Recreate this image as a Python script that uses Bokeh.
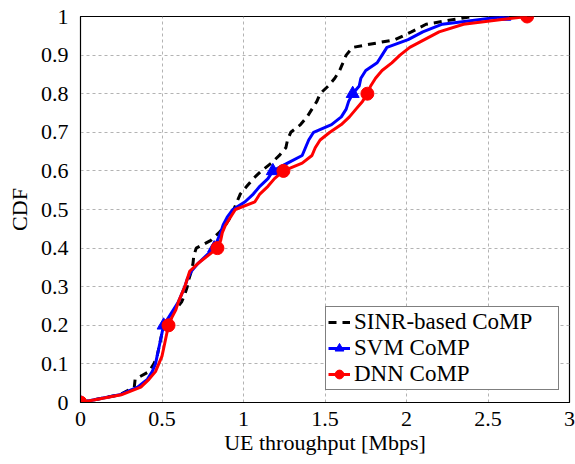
from bokeh.plotting import figure
from bokeh.models import FixedTicker, Legend, LegendItem, Range1d
from bokeh.embed import file_html
from bokeh.resources import INLINE

# CDF levels
cdf_levels = [0.00, 0.02, 0.04, 0.06, 0.08, 0.10, 0.12, 0.14, 0.16, 0.18,
              0.20, 0.22, 0.24, 0.26, 0.28, 0.30, 0.32, 0.34, 0.36, 0.38,
              0.40, 0.42, 0.44, 0.46, 0.48, 0.50, 0.52, 0.54, 0.56, 0.58,
              0.60, 0.62, 0.64, 0.66, 0.68, 0.70, 0.72, 0.74, 0.76, 0.78,
              0.80, 0.82, 0.84, 0.86, 0.88, 0.90, 0.92, 0.94, 0.96, 0.98, 1.00]

sinr_tput = [0.00, 0.24, 0.33, 0.335, 0.42, 0.45, 0.47, 0.48, 0.49, 0.50,
             0.52, 0.55, 0.58, 0.62, 0.64, 0.655, 0.665, 0.68, 0.69, 0.695,
             0.71, 0.80, 0.85, 0.89, 0.92, 0.94, 0.96, 0.98, 1.02, 1.06,
             1.11, 1.17, 1.22, 1.26, 1.27, 1.29, 1.35, 1.39, 1.42, 1.45,
             1.47, 1.52, 1.56, 1.59, 1.61, 1.63, 1.67, 1.93, 2.03, 2.12, 2.40]

svm_tput = [0.00, 0.24, 0.35, 0.41, 0.44, 0.46, 0.47, 0.48, 0.49, 0.50,
            0.51, 0.54, 0.57, 0.60, 0.62, 0.64, 0.655, 0.68, 0.72, 0.77,
            0.82, 0.84, 0.86, 0.875, 0.90, 0.935, 1.01, 1.06, 1.10, 1.15,
            1.18, 1.27, 1.36, 1.38, 1.40, 1.43, 1.54, 1.60, 1.63, 1.645,
            1.67, 1.71, 1.72, 1.75, 1.82, 1.85, 1.88, 2.01, 2.10, 2.22, 2.60]

dnn_tput = [0.00, 0.25, 0.37, 0.42, 0.46, 0.48, 0.50, 0.51, 0.52, 0.53,
            0.54, 0.56, 0.585, 0.60, 0.62, 0.64, 0.655, 0.67, 0.72, 0.78,
            0.84, 0.86, 0.87, 0.89, 0.92, 0.95, 1.07, 1.10, 1.15, 1.19,
            1.245, 1.36, 1.42, 1.44, 1.47, 1.53, 1.60, 1.65, 1.69, 1.73,
            1.76, 1.78, 1.81, 1.85, 1.91, 1.96, 2.02, 2.11, 2.20, 2.35, 2.74]

x_ticks = [0, 0.5, 1, 1.5, 2, 2.5, 3]
x_tick_labels = ["0", "0.5", "1", "1.5", "2", "2.5", "3"]
y_ticks = [0, 0.1, 0.2, 0.3, 0.4, 0.5, 0.6, 0.7, 0.8, 0.9, 1.0]
y_tick_labels = ["0", "0.1", "0.2", "0.3", "0.4", "0.5", "0.6", "0.7", "0.8", "0.9", "1"]

series_names = ["SINR-based CoMP", "SVM CoMP", "DNN CoMP"]

FONT = "Liberation Serif"

p = figure(width=575, height=464, output_backend="svg", toolbar_location=None,
           x_range=Range1d(0, 3), y_range=Range1d(0, 1),
           min_border_left=80, min_border_right=6, min_border_top=16, min_border_bottom=62)

p.outline_line_color = "black"
p.outline_line_width = 1.2

for ax in (p.xaxis[0], p.yaxis[0]):
    ax.major_tick_line_color = None
    ax.minor_tick_line_color = None
    ax.axis_line_color = "black"
    ax.major_label_text_font = FONT
    ax.major_label_text_font_size = "22px"
    ax.major_label_text_color = "black"
    ax.axis_label_text_font = FONT
    ax.axis_label_text_font_size = "22px"
    ax.axis_label_text_font_style = "normal"
    ax.axis_label_text_color = "black"

p.xaxis.ticker = FixedTicker(ticks=x_ticks)
p.xaxis.major_label_overrides = {t: l for t, l in zip(x_ticks, x_tick_labels)}
p.yaxis.ticker = FixedTicker(ticks=y_ticks)
p.yaxis.major_label_overrides = {t: l for t, l in zip(y_ticks, y_tick_labels)}
p.xaxis.major_label_standoff = 3
p.yaxis.major_label_standoff = 6
p.xaxis.axis_label = "UE throughput [Mbps]"
p.yaxis.axis_label = "CDF"
p.xaxis.axis_label_standoff = 1
p.yaxis.axis_label_standoff = 6

p.grid.grid_line_color = "#b3b3b3"
p.grid.grid_line_dash = "3 3"
p.grid.grid_line_width = 1

r_sinr = p.line(sinr_tput, cdf_levels, line_color="black", line_width=3, line_dash="8 6")
r_svm = p.line(svm_tput, cdf_levels, line_color="#0000ff", line_width=3)
m_svm = p.scatter(svm_tput[::10], cdf_levels[::10], marker="triangle", size=13,
                  fill_color="#0000ff", line_color="#0000ff")
r_dnn = p.line(dnn_tput, cdf_levels, line_color="#ff0000", line_width=3)
m_dnn = p.scatter(dnn_tput[::10], cdf_levels[::10], marker="circle", size=13,
                  fill_color="#ff0000", line_color="#ff0000")

legend = Legend(items=[
    LegendItem(label=series_names[0], renderers=[r_sinr]),
    LegendItem(label=series_names[1], renderers=[r_svm, m_svm]),
    LegendItem(label=series_names[2], renderers=[r_dnn, m_dnn]),
], location=(245, 12))
legend.label_text_font = FONT
legend.label_text_font_size = "23px"
legend.label_text_color = "black"
legend.border_line_color = "black"
legend.border_line_width = 1
legend.background_fill_alpha = 1
legend.padding = 2
legend.spacing = 0
legend.margin = 0
legend.glyph_width = 22
legend.glyph_height = 24
legend.label_height = 24
legend.label_width = 202
legend.label_standoff = 4
p.add_layout(legend, "center")

open("out.html", "w").write(file_html(p, INLINE))
